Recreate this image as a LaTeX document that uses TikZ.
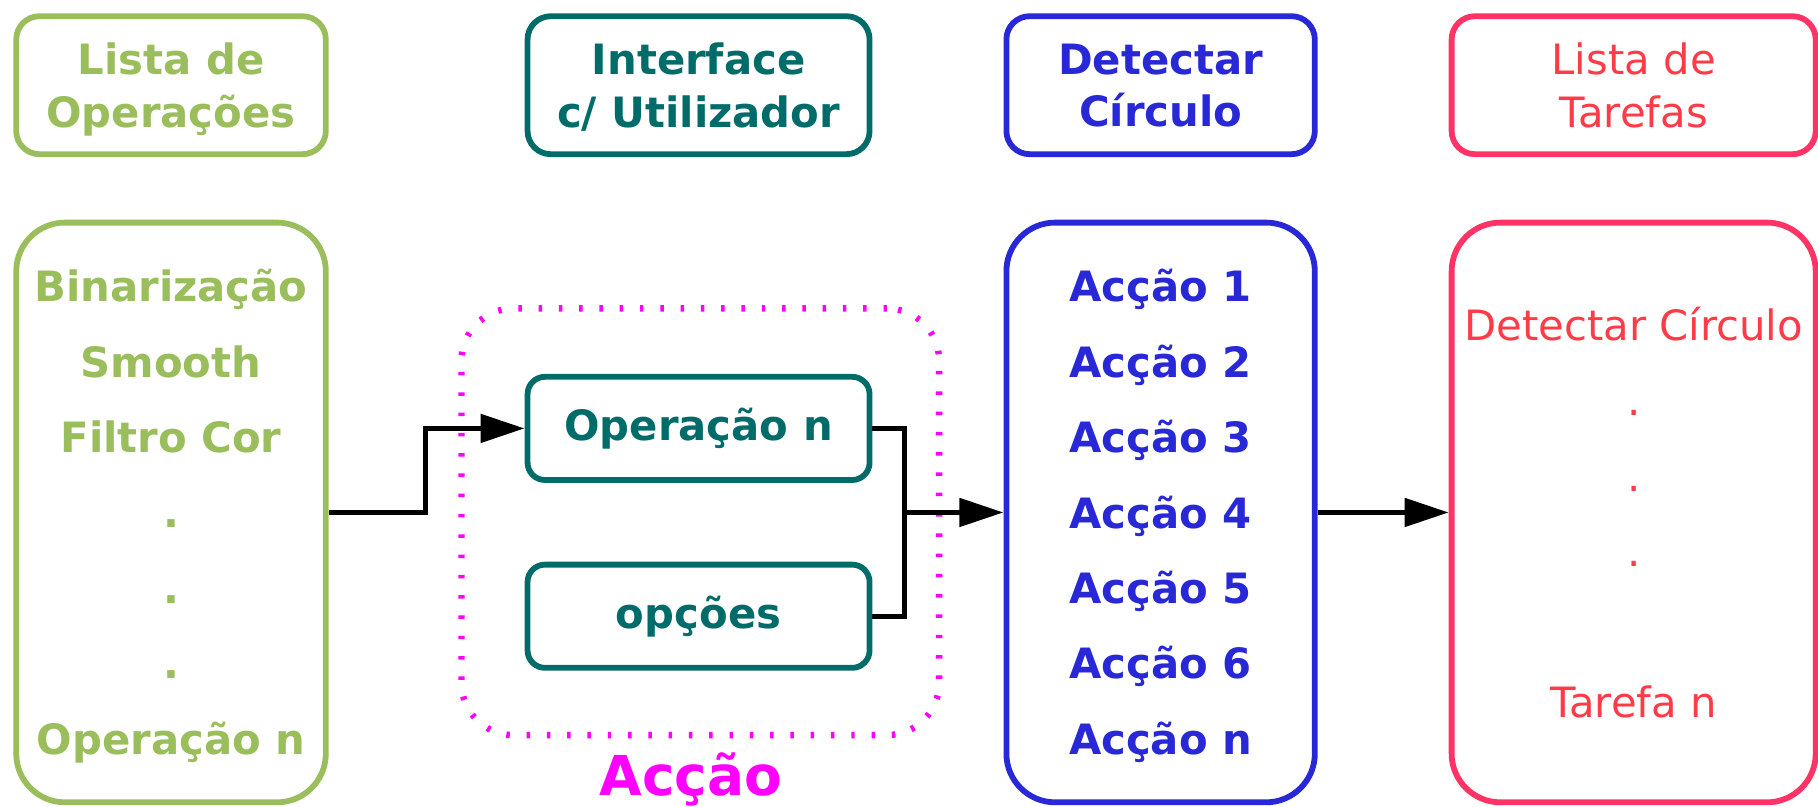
\documentclass[tikz,border=0pt]{standalone}
\usepackage{fontspec}
\setmainfont{DejaVu Sans}
\usepackage{tikz}
\usetikzlibrary{arrows.meta}

\definecolor{opgreen}{RGB}{155,190,92}
\definecolor{uiteal}{RGB}{0,108,105}
\definecolor{detblue}{RGB}{40,40,215}
\definecolor{taskred}{RGB}{255,51,102}
\definecolor{tasktext}{RGB}{255,59,72}
\definecolor{actmagenta}{RGB}{255,0,255}

\begin{document}
\begin{tikzpicture}[line width=0.05cm,
  titlebox/.style={shape=rectangle,rounded corners=0.2cm,draw,align=center,minimum height=1.19cm,inner sep=0pt,text depth=0pt,font=\bfseries\fontsize{10.25}{12.8}\selectfont},
  listbox/.style={shape=rectangle,rounded corners=0.42cm,draw,align=center,minimum height=5cm,inner sep=0pt,font=\bfseries\fontsize{10.25}{18.5}\selectfont},
  uibox/.style={shape=rectangle,rounded corners=0.15cm,draw=uiteal,text=uiteal,minimum width=2.95cm,minimum height=0.89cm,inner sep=0pt,font=\bfseries\fontsize{10.25}{12}\selectfont},
  flow/.style={draw=black,line width=0.047cm,-{Triangle[length=0.38cm,width=0.24cm]}}]
\useasboundingbox (0,0) rectangle (15.68,6.96);

% titles
\path (1.475,6.225) node (opstitle) [titlebox,draw=opgreen,text=opgreen,minimum width=2.67cm] {Lista de\\Operações};
\path (6.025,6.225) node (uititle) [titlebox,draw=uiteal,text=uiteal,minimum width=2.95cm] {Interface\\c/ Utilizador};
\path (10.01,6.225) node (dettitle) [titlebox,draw=detblue,text=detblue,minimum width=2.66cm] {Detectar\\Círculo};
\path (14.09,6.225) node (tasktitle) [titlebox,draw=taskred,text=tasktext,minimum width=3.14cm,font=\fontsize{10.25}{12.8}\selectfont] {Lista de\\Tarefas};

% lists
\path (1.475,2.54) node (oplist) [listbox,draw=opgreen,text=opgreen,minimum width=2.67cm] {};
\path (oplist.center) ++(0,-0.03) node [align=center,text=opgreen,inner sep=0pt,font=\bfseries\fontsize{10.25}{18.5}\selectfont] (optext) {Binarização\\Smooth\\Filtro Cor\\.\\.\\.\\Operação n};
\path (10.01,2.54) node (actlist) [listbox,draw=detblue,text=detblue,minimum width=2.66cm] {};
\path (actlist.center) ++(0,-0.03) node [align=center,text=detblue,inner sep=0pt,font=\bfseries\fontsize{10.25}{18.5}\selectfont] (acttext) {Acção 1\\Acção 2\\Acção 3\\Acção 4\\Acção 5\\Acção 6\\Acção n};
\path (14.09,2.54) node (tasklist) [listbox,draw=taskred,text=tasktext,minimum width=3.14cm,font=\fontsize{10.25}{18.5}\selectfont] {Detectar Círculo\\.\\.\\.\\\mbox{}\\Tarefa n};

% accao
\path (6.04,2.46) node (actgroup) [shape=rectangle,rounded corners=0.45cm,draw=actmagenta,dash pattern=on 0.03cm off 0.145cm,line width=0.055cm,minimum width=4.12cm,minimum height=3.68cm] {};
\path (6.025,3.265) node (opnode) [uibox] {Operação n};
\path (6.025,1.645) node (optnode) [uibox] {opções};
\path (5.96,0.10) node (actlabel) [anchor=base,text=actmagenta,inner sep=0pt,font=\bfseries\fontsize{13.5}{16}\selectfont] {Acção};

\coordinate (bend) at (3.67,2.54);
\coordinate (join) at (7.80,2.54);
\draw [flow] (oplist.east) -- (bend) |- (opnode.west);
\draw [line width=0.047cm] (opnode.east) -| (join) |- (optnode.east);
\draw [flow] (join) -- (actlist.west);
\draw [flow] (actlist.east) -- (tasklist.west);
\end{tikzpicture}
\end{document}
